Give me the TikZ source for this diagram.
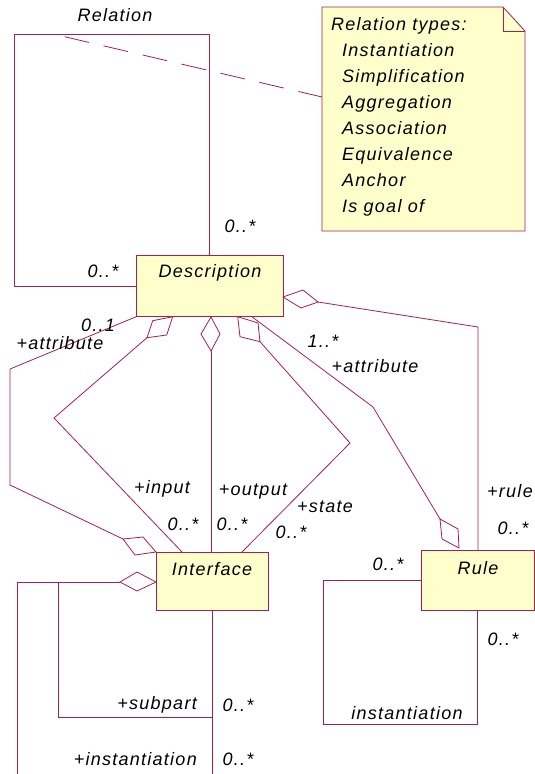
\documentclass[tikz,border=0pt]{standalone}
\usepackage{fontspec}
\setmainfont{Liberation Sans}[LetterSpace=7]
\definecolor{lc}{RGB}{163,32,80}
\definecolor{boxfill}{RGB}{255,255,204}
\tikzset{
  ln/.style={draw=lc, line width=0.8pt},
  box/.style={draw=lc, fill=boxfill, line width=0.8pt, inner sep=0pt, anchor=north west},
  lbl/.style={font=\fontsize{18}{21}\selectfont\itshape, inner sep=0pt, text=black},
  dia/.style={draw=lc, fill=white, line width=0.8pt}
}
\begin{document}
\begin{tikzpicture}[x=1pt,y=-1pt]
\useasboundingbox (0,0) rectangle (535,774);
% boxes
\node[box, minimum width=147, minimum height=61] (desc) at (136,255) {};
\node[box, minimum width=112, minimum height=58] (iface) at (156,552) {};
\node[box, minimum width=113, minimum height=60] (rule) at (421,550) {};
\node[lbl] (desct) at (210,273) {Description};
\node[lbl] (ifacet) at (212,569) {Interface};
\node[lbl] (rulet) at (478,568) {Rule};
% note
\draw[ln, fill=boxfill] (322,7) -- (503,7) -- (525,31) -- (525,231) -- (322,231) -- cycle;
\draw[ln] (503,7) -- (503,31) -- (525,31);
\coordinate (notein) at (322,97);
\coordinate (relstart) at (53,34);
\node[lbl, anchor=base west] (nt0) at (331,30) {Relation types:};
\node[lbl, anchor=base west] (nt1) at (342,56) {Instantiation};
\node[lbl, anchor=base west] (nt2) at (342,82) {Simplification};
\node[lbl, anchor=base west] (nt3) at (342,108) {Aggregation};
\node[lbl, anchor=base west] (nt4) at (342,134) {Association};
\node[lbl, anchor=base west] (nt5) at (342,160) {Equivalence};
\node[lbl, anchor=base west] (nt6) at (342,186) {Anchor};
\node[lbl, anchor=base west] (nt7) at (342,212) {Is goal of};
% relation loop
\draw[ln] (desc.west) -- (14,0 |- desc.west) -- (14,34) -- (209,34) -- (209,0 |- desc.north);
\draw[ln, dash pattern=on 25pt off 15pt, dash phase=28pt] (relstart) -- (notein);
\node[lbl] (relt) at (115,15) {Relation};
\node[lbl] (m1) at (240,226) {0..*};
\node[lbl] (m2) at (103,271) {0..*};
% diamonds
\draw[dia] (172.7,316.7) -- (166.7,335) -- (147,337.7) -- (152.7,320.7) -- cycle;
\draw[dia] (211,317) -- (220,334) -- (211,351) -- (201,334) -- cycle;
\draw[dia] (237.7,316.7) -- (258,323) -- (260,341.7) -- (240,336.7) -- cycle;
\draw[dia] (459,548) -- (458,529) -- (440,519) -- (442,539) -- cycle;
\draw[dia] (283,297) -- (303,290) -- (318,302) -- (301,308) -- cycle;
\draw[dia] (156,552) -- (135,555) -- (123,539) -- (143,537) -- cycle;
\draw[dia] (156,582) -- (137,572) -- (120,582) -- (137,591) -- cycle;
\coordinate (dinput) at (147,337.7);
\coordinate (doutput) at (211,351);
\coordinate (dstate) at (260,341.7);
\coordinate (drule) at (440,519);
\coordinate (dright) at (318,302);
\coordinate (dattr) at (123,539);
\coordinate (dsub) at (120,582);
% connectors
\draw[ln] (desc.south west) -- (10,369) -- (10,485) -- (dattr);
\draw[ln] (dinput) -- (54,418) -- (182,0 |- iface.north);
\draw[ln] (doutput) -- (211,0 |- iface.north);
\draw[ln] (dstate) -- (350,443) -- (242,0 |- iface.north);
\draw[ln] (252,0 |- desc.south) -- (373,407) -- (drule);
\draw[ln] (dright) -- (478,327) -- (478,0 |- rule.north);
\draw[ln] (rule.west) -- (323,0 |- rule.west) -- (323,724) -- (477,724) -- (477,0 |- rule.south);
\draw[ln] (dsub) -- (17,582) -- (17,776);
\draw[ln] (58,582) -- (58,717) -- (212,717);
\draw[ln] (212,0 |- iface.south) -- (212,776);
% labels
\node[lbl] (l01) at (98,325) {0..1};
\node[lbl] (lattr1) at (60,343) {+attribute};
\node[lbl] (l1s) at (323,341) {1..*};
\node[lbl] (lattr2) at (375,366) {+attribute};
\node[lbl] (linput) at (162,489) {+input};
\node[lbl] (loutput) at (253,492) {+output};
\node[lbl] (lstate) at (325,507) {+state};
\node[lbl] (lrule) at (510,491) {+rule};
\node[lbl] (mi) at (183,524) {0..*};
\node[lbl] (mo) at (232,524) {0..*};
\node[lbl] (ms) at (291,532) {0..*};
\node[lbl] (mr) at (513,528) {0..*};
\node[lbl] (mrl) at (388,564) {0..*};
\node[lbl] (mrb) at (503,639) {0..*};
\node[lbl] (linst) at (407,713) {instantiation};
\node[lbl, anchor=east] (lsub) at (197,705) {+subpart};
\node[lbl] (msub) at (238,705) {0..*};
\node[lbl, anchor=east] (linst2) at (197,759) {+instantiation};
\node[lbl] (minst) at (238,759) {0..*};
\end{tikzpicture}
\end{document}
